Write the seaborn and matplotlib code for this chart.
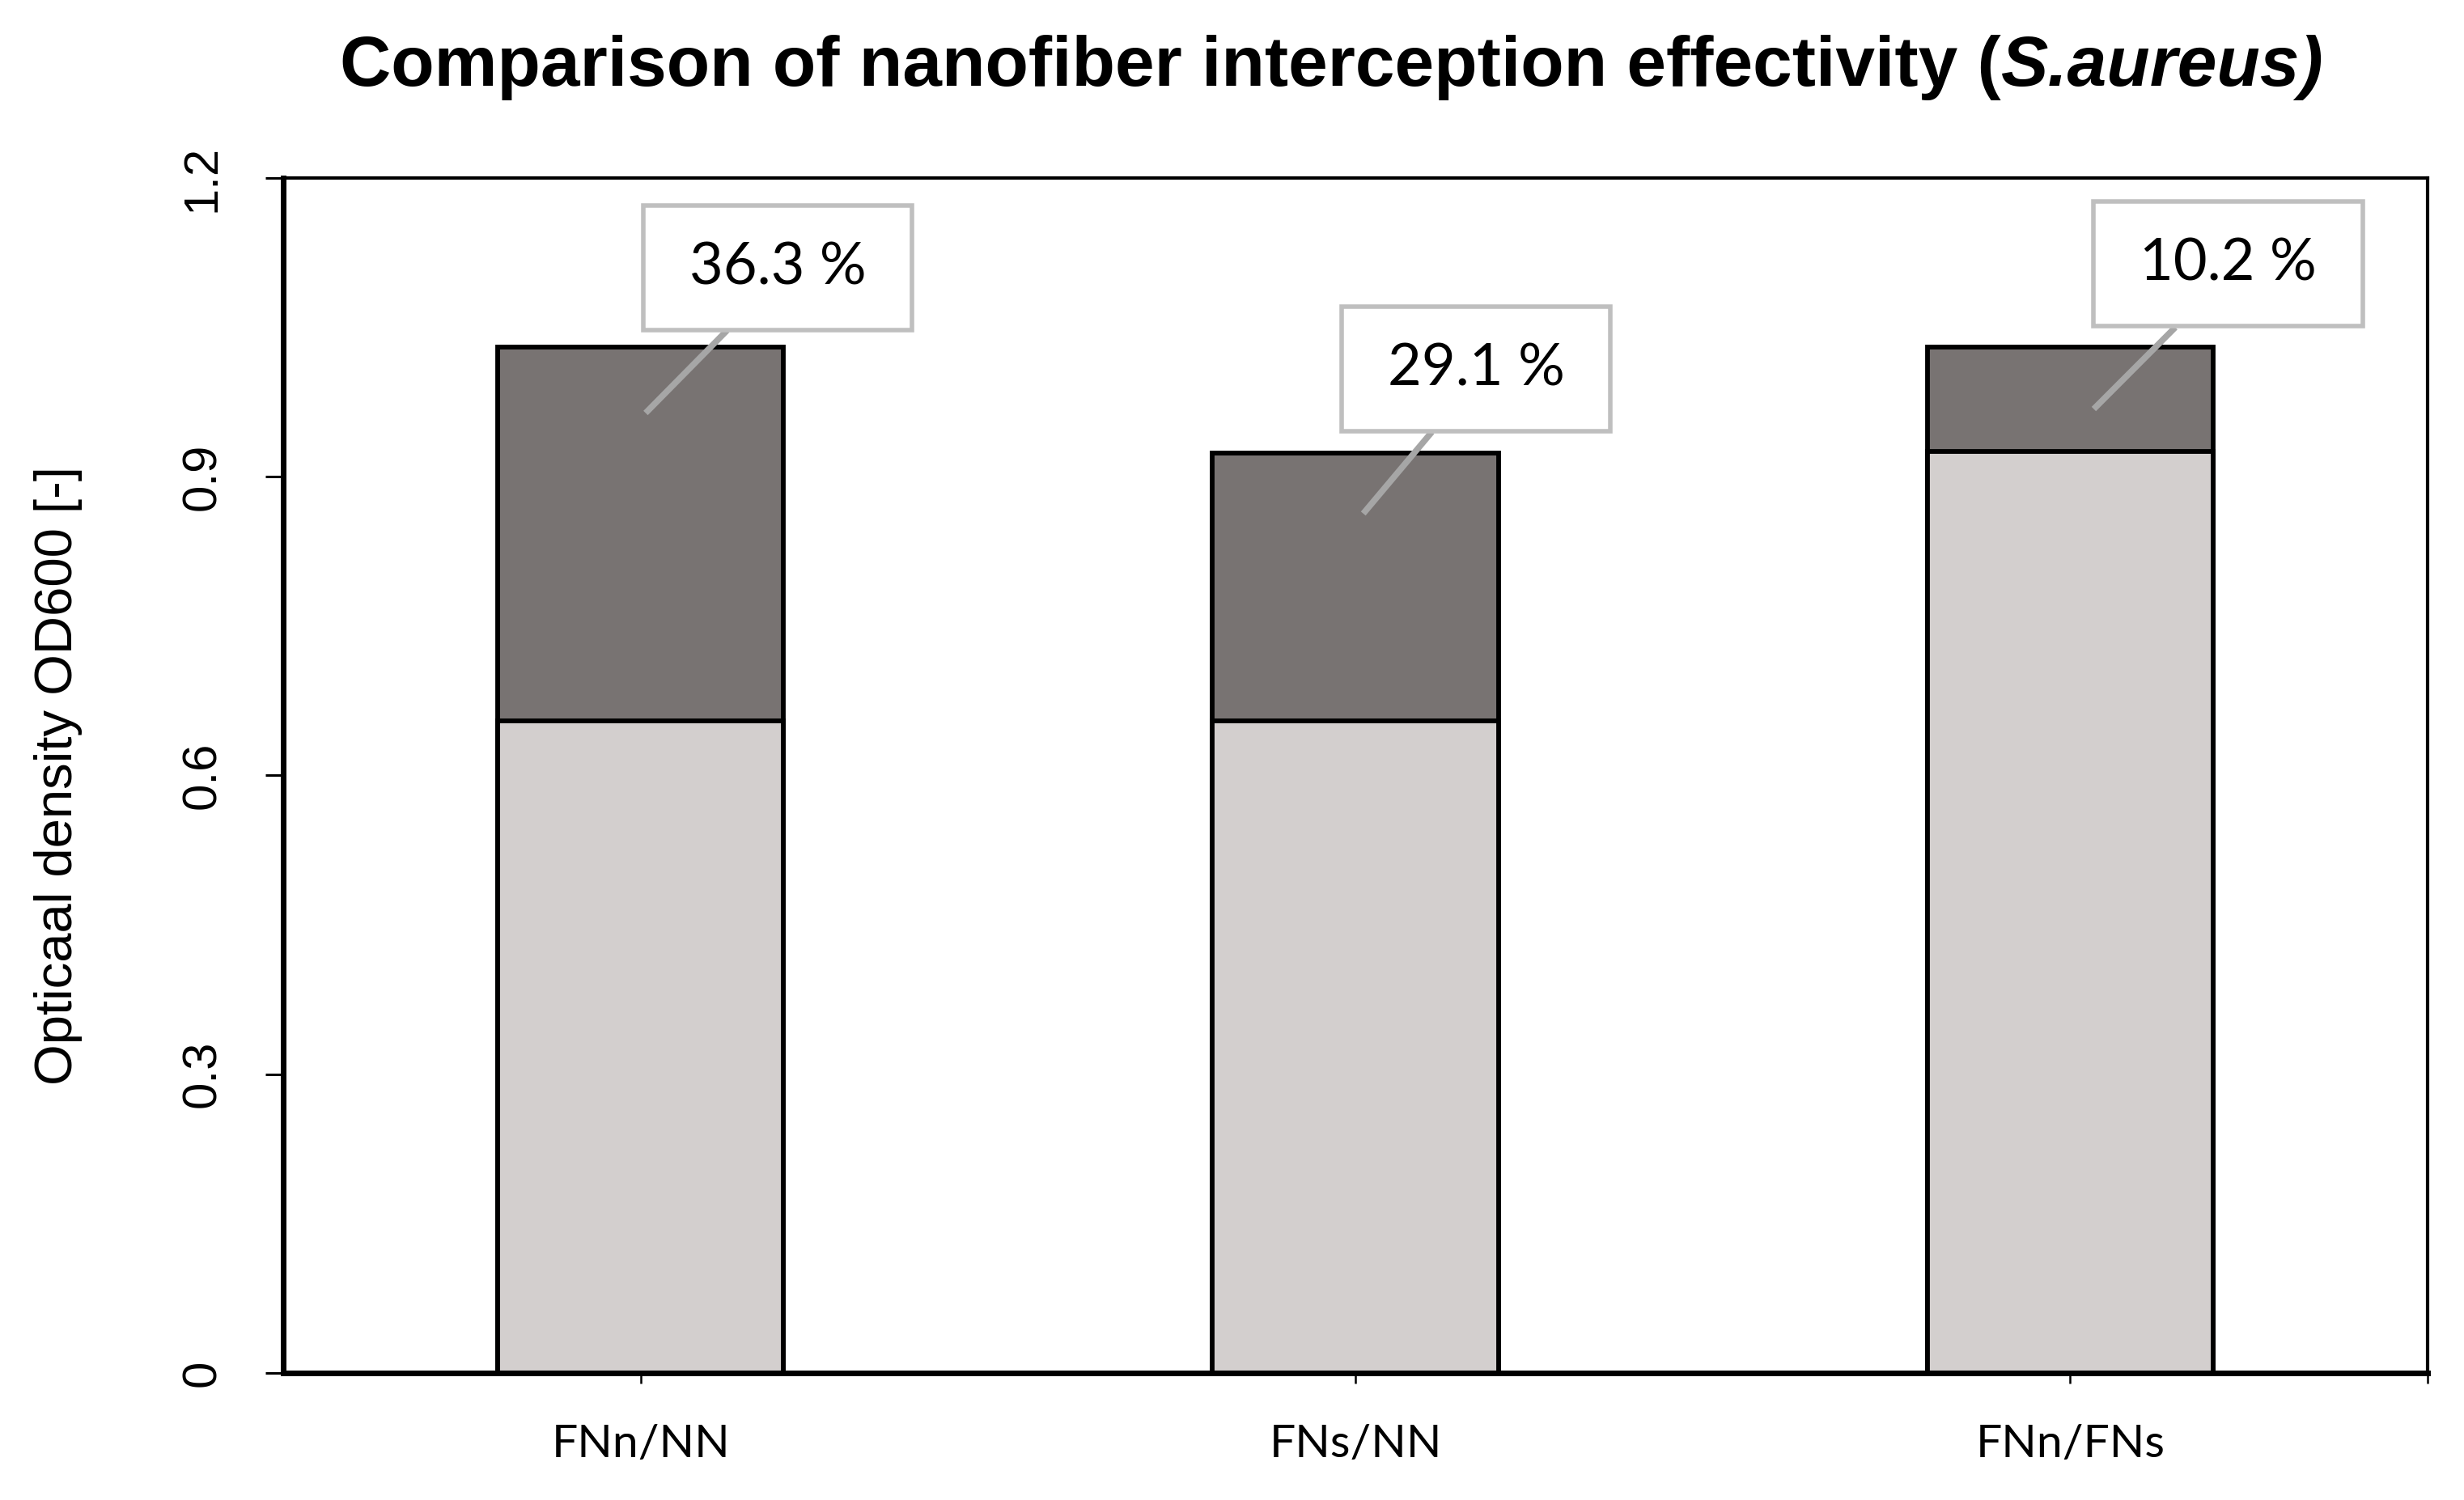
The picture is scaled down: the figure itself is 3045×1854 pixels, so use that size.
import numpy as np
import pandas as pd
import seaborn as sns
import matplotlib.pyplot as plt
from matplotlib.patches import Rectangle

# ---------------- data ----------------
categories = ["FNn/NN", "FNs/NN", "FNn/FNs"]
od_after = [0.655, 0.655, 0.925]      # lower (light) segment
od_total = [1.030, 0.924, 1.030]      # full stacked height
reduction_pct = [36.3, 29.1, 10.2]
y_ticks = [0, 0.3, 0.6, 0.9, 1.2]
y_tick_labels = ["0", "0.3", "0.6", "0.9", "1.2"]

# ---------------- style ----------------
sns.set_theme(style="white")
plt.rcParams['font.family'] = ['Liberation Sans', 'DejaVu Sans']
plt.rcParams['text.color'] = 'black'
plt.rcParams['axes.labelcolor'] = 'black'
plt.rcParams['xtick.color'] = 'black'
plt.rcParams['ytick.color'] = 'black'

W, H = 3045, 1854
fig = plt.figure(figsize=(W / 100, H / 100), dpi=100)
ax = fig.add_axes([350 / W, 1 - 1697 / H, 2650 / W, 1477 / H])

df = pd.DataFrame({"cat": categories, "total": od_total, "after": od_after})
sns.barplot(data=df, x="cat", y="total", color="#787372", saturation=1,
            width=0.4, edgecolor="black", linewidth=4.2, ax=ax, zorder=2)
sns.barplot(data=df, x="cat", y="after", color="#D3CFCE", saturation=1,
            width=0.4, edgecolor="black", linewidth=4.2, ax=ax, zorder=3)

ax.set_xlim(-0.5, 2.5)
ax.set_ylim(0, 1.2)
ax.set_xlabel("")

for s in ["left", "bottom"]:
    ax.spines[s].set_linewidth(5)
    ax.spines[s].set_color("black")
for s in ["top", "right"]:
    ax.spines[s].set_linewidth(3)
    ax.spines[s].set_color("black")
ax.spines["left"].set_zorder(5)
ax.spines["bottom"].set_zorder(5)

ax.set_yticks(y_ticks)
ax.set_yticklabels(y_tick_labels, rotation=90, va="center", fontsize=43)
ax.tick_params(axis="y", left=True, direction="out", length=16, width=2.2,
               pad=36, color="black")

ax.set_xticks([0, 1, 2, 2.5])
ax.set_xticklabels(categories + [""], fontsize=41, family=["Lato", "DejaVu Sans"])
ax.tick_params(axis="x", bottom=True, direction="out", length=9, width=1.8,
               pad=36, color="black")

ax.set_ylabel("Opticaal density OD600 [-]", fontsize=47)
ax.yaxis.label.set_va("center")
ax.yaxis.set_label_coords(-0.105, 0.5)

# ---------------- callouts ----------------
box_centers = [(0.192, 1.110), (1.169, 1.008), (2.221, 1.114)]
box_w, box_h = 0.376, 0.125
leader_end = [(0.007, 0.964), (1.011, 0.863), (2.033, 0.968)]
leader_start = [(0.121, 1.047), (1.107, 0.945), (2.147, 1.050)]

for i, pct in enumerate(reduction_pct):
    cx, cy = box_centers[i]
    ax.plot([leader_start[i][0], leader_end[i][0]],
            [leader_start[i][1], leader_end[i][1]],
            color="#A6A6A6", lw=5.5, zorder=6, solid_capstyle="butt")
    ax.add_patch(Rectangle((cx - box_w / 2, cy - box_h / 2), box_w, box_h,
                           facecolor="white", edgecolor="#BFBFBF", lw=4,
                           zorder=7))
    ax.text(cx, cy, f"{pct:.1f} %", ha="center", va="center", fontsize=52,
            family=["Lato", "DejaVu Sans"], color="black", zorder=8)

# ---------------- title (bold + bold italic) ----------------
fig.canvas.draw()
r = fig.canvas.get_renderer()
parts = [("Comparison of nanofiber interception effectivity (", "normal"),
         ("S.aureus)", "italic")]
ty = 1 - 84 / H
tmp = []
widths = []
for txt, st in parts:
    t = fig.text(0, ty, txt, fontsize=63, fontweight="bold", style=st,
                 ha="left", va="center", color="black")
    widths.append(t.get_window_extent(r).width)
    tmp.append(t)
total = sum(widths)
x0 = 1646 - total / 2
for t, w in zip(tmp, widths):
    t.set_x(x0 / W)
    x0 += w

fig.savefig("out.png", dpi=100)
